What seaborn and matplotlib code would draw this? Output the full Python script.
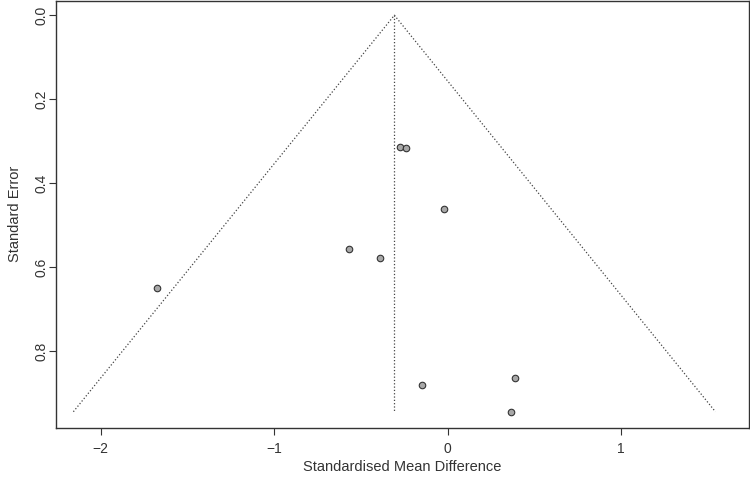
import numpy as np
import pandas as pd
import matplotlib
matplotlib.use('Agg')
import matplotlib.pyplot as plt
import seaborn as sns

# Study estimates
smd = [-1.675, -0.567, -0.39, -0.275, -0.24, -0.021, -0.148, 0.388, 0.365]
se = [0.649, 0.556, 0.578, 0.313, 0.317, 0.461, 0.880, 0.863, 0.944]
pooled = -0.307
x_ticks = [-2, -1, 0, 1]
y_ticks = [0.0, 0.2, 0.4, 0.6, 0.8]

df = pd.DataFrame({'smd': smd, 'se': se})

sns.set_style('white')
plt.rcParams['font.family'] = ['Liberation Sans', 'DejaVu Sans']

fig = plt.figure(figsize=(7.5, 4.83), dpi=100)
ax = fig.add_axes([0.0743, 0.1145, 0.9244, 0.8835])

# funnel: pooled +/- 1.96*SE, from SE=0 down to the largest SE
se_max = max(se)
funnel = pd.DataFrame({
    'x': [pooled - 1.96 * se_max, pooled, pooled + 1.96 * se_max],
    'y': [se_max, 0.0, se_max],
})
sns.lineplot(data=funnel, x='x', y='y', sort=False, ax=ax,
             color='#444444', linestyle=':', linewidth=0.9)
ax.plot([pooled, pooled], [0, se_max], color='#444444', linestyle=':', linewidth=0.9)

sns.scatterplot(data=df, x='smd', y='se', ax=ax, s=22, color='#a8a8a8',
                edgecolor='#333333', linewidth=0.8, zorder=3)

ax.set_xlim(-2.259, 1.737)
ax.set_ylim(0.982, -0.034)
ax.set_xticks(x_ticks)
ax.set_xticklabels(['\u22122', '\u22121', '0', '1'])
ax.set_yticks(y_ticks)
ax.set_yticklabels([f'{v:.1f}' for v in y_ticks], rotation=90, va='center')
ax.tick_params(direction='out', length=5, width=0.8, color='#333333',
               labelsize=10, labelcolor='#333333',
               bottom=True, left=True)
ax.tick_params(axis='x', pad=5)
ax.tick_params(axis='y', pad=0)
for sp in ax.spines.values():
    sp.set_color('#333333')
    sp.set_linewidth(1.0)

ax.set_xlabel('Standardised Mean Difference', fontsize=10.5, color='#333333', labelpad=3)
ax.set_ylabel('Standard Error', fontsize=10.5, color='#333333', labelpad=9)

fig.savefig('out.png', dpi=100)
plt.close(fig)
